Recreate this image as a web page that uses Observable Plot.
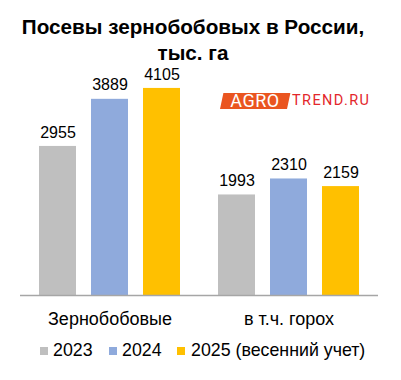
<!DOCTYPE html>
<html>
<head>
<meta charset="utf-8">
<script src="https://cdn.jsdelivr.net/npm/d3@7"></script>
<script src="https://cdn.jsdelivr.net/npm/@observablehq/plot@0.6"></script>
<style>
  body { margin: 0; background: #fff; font-family: "Liberation Sans", Arial, sans-serif; }
  #wrap { position: relative; width: 401px; height: 380px; overflow: hidden; }
  #title { position: absolute; left: 0; top: 14px; width: 386px; text-align: center; font-weight: bold; font-size: 20.7px; line-height: 26px; color: #000; }
  #chart { position: absolute; left: 0; top: 66px; }
  #chart svg { overflow: visible; }
  .leg { position: absolute; top: 340px; font-size: 17.8px; line-height: 20px; color: #000; white-space: nowrap; }
  .sw { position: absolute; width: 8px; height: 8px; top: 347px; }
  #logo { position: absolute; left: 220px; top: 93px; height: 16px; }
  #logo .box { position: absolute; left: 0; top: 0; width: 67px; height: 16px; background: #EA5520; transform: skewX(-12deg); transform-origin: bottom left; }
  #logo .agro { position: absolute; left: 3px; top: -2px; width: 64px; text-align: center; color: #fff; font-family: Roboto, "Open Sans", sans-serif; font-size: 18px; line-height: 20px; letter-spacing: 0.5px; }
  #logo .trend { position: absolute; left: 72px; top: -1px; color: #E3262B; font-family: Roboto, "Open Sans", sans-serif; font-size: 14.5px; line-height: 18px; letter-spacing: 1.4px; }
</style>
</head>
<body>
<div id="wrap">
  <div id="title">Посевы зернобобовых в России,<br>тыс. га</div>
  <div id="chart"></div>
  <div id="logo"><div class="box"></div><div class="agro">AGRO</div><div class="trend">TREND.RU</div></div>
  <div id="legend"></div>
</div>
<script>
const categories = ["Зернобобовые", "в т.ч. горох"];
const years = ["2023", "2024", "2025 (весенний учет)"];
const colors = ["#BFBFBF", "#8FAADC", "#FFC000"];
const values2023 = [2955, 1993];
const values2024 = [3889, 2310];
const values2025 = [4105, 2159];

const series = [values2023, values2024, values2025];
const data = [];
categories.forEach((c, i) => {
  years.forEach((y, j) => data.push({category: c, year: y, value: series[j][i]}));
});

const chart = Plot.plot({
  width: 401,
  height: 270,
  marginLeft: 20,
  marginRight: 23,
  marginTop: 2,
  marginBottom: 41,
  style: {fontFamily: "'Liberation Sans', Arial, sans-serif", background: "transparent"},
  fx: {domain: categories, padding: 0, label: null},
  x: {domain: years, paddingInner: 0.288, paddingOuter: 0.365, axis: null},
  y: {domain: [0, 4500], axis: null},
  color: {domain: years, range: colors},
  marks: [
    Plot.barY(data, {fx: "category", x: "year", y: "value", fill: "year"}),
    Plot.text(data, {fx: "category", x: "year", y: "value", text: d => String(d.value), dy: -14, fontSize: 16, fill: "#000", lineAnchor: "middle"}),
    Plot.ruleY([0], {stroke: "#A6A6A6", strokeWidth: 1.3}),
    Plot.axisFx({anchor: "bottom", tickSize: 0, tickPadding: 17, fontSize: 18, label: null, color: "#000"})
  ]
});
document.getElementById("chart").appendChild(chart);

const legend = document.getElementById("legend");
const legPos = [{sw: 40, tx: 53}, {sw: 109, tx: 122}, {sw: 177, tx: 191}];
years.forEach((y, i) => {
  const s = document.createElement("div");
  s.className = "sw";
  s.style.left = legPos[i].sw + "px";
  s.style.background = colors[i];
  legend.appendChild(s);
  const t = document.createElement("div");
  t.className = "leg";
  t.style.left = legPos[i].tx + "px";
  t.textContent = y;
  legend.appendChild(t);
});
</script>
</body>
</html>
